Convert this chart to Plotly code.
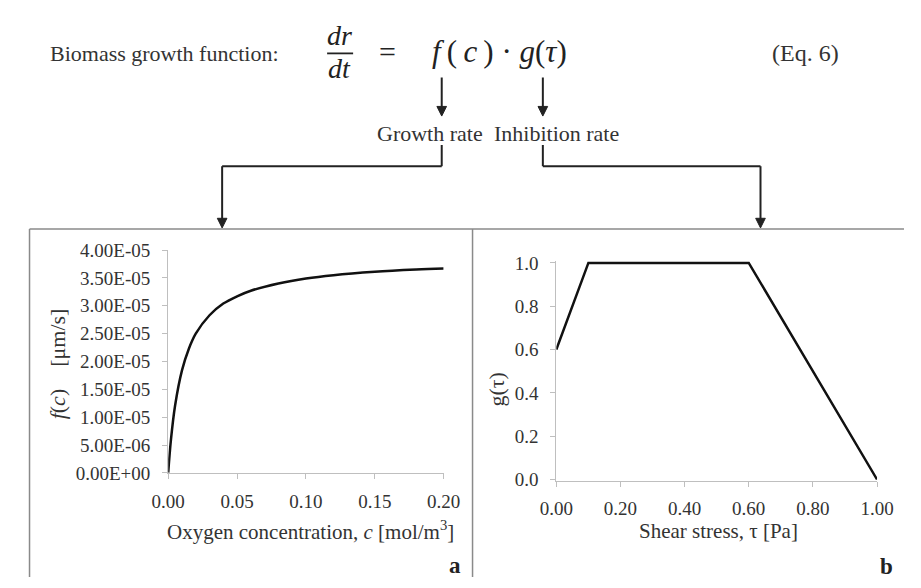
import plotly.graph_objects as go

# ---------------- data ----------------
conc = [0.0, 0.002, 0.005, 0.01, 0.015, 0.02, 0.03, 0.04, 0.05, 0.06, 0.08, 0.10, 0.12, 0.15, 0.18, 0.20]
growth = [0.0, 5.95e-6, 1.21e-5, 1.84e-5, 2.23e-5, 2.50e-5, 2.83e-5, 3.04e-5, 3.17e-5, 3.27e-5,
          3.40e-5, 3.49e-5, 3.55e-5, 3.61e-5, 3.65e-5, 3.67e-5]

shear = [0.0, 0.10, 0.60, 1.00]
inhibition = [0.6, 1.0, 1.0, 0.0]

a_yticks = [0, 5e-6, 1e-5, 1.5e-5, 2e-5, 2.5e-5, 3e-5, 3.5e-5, 4e-5]
a_yticklabels = ["0.00E+00", "5.00E-06", "1.00E-05", "1.50E-05", "2.00E-05",
                 "2.50E-05", "3.00E-05", "3.50E-05", "4.00E-05"]
a_xticks = [0.0, 0.05, 0.10, 0.15, 0.20]
b_xticks = [0.0, 0.2, 0.4, 0.6, 0.8, 1.0]
b_yticks = [0.0, 0.2, 0.4, 0.6, 0.8, 1.0]

# ---------------- layout helpers ----------------
W, H = 921, 588
def px(x):
    return x / W
def py(y):
    return 1 - y / H

SERIF = "Liberation Serif, Times New Roman, serif"
TXT = "#333333"
AX = "#bfbfbf"

fig = go.Figure()
fig.add_trace(go.Scatter(x=conc, y=growth, mode="lines", line=dict(color="#111111", width=2.5, shape="spline"),
                         xaxis="x", yaxis="y", showlegend=False, hoverinfo="x+y"))
fig.add_trace(go.Scatter(x=shear, y=inhibition, mode="lines", line=dict(color="#111111", width=2.5),
                         xaxis="x2", yaxis="y2", showlegend=False, hoverinfo="x+y"))

axis_common = dict(showgrid=False, zeroline=False, showline=True, linecolor=AX, linewidth=1.2,
                   ticks="outside", tickcolor=AX, ticklen=5, tickwidth=1.2,
                   tickfont=dict(family=SERIF, size=19, color=TXT))

fig.update_layout(
    width=W, height=H, margin=dict(l=0, r=0, t=0, b=0),
    paper_bgcolor="white", plot_bgcolor="white",
    xaxis=dict(domain=[px(157), px(443)], range=[0, 0.2], tickvals=a_xticks, tickformat=".2f",
               anchor="y", ticklabelstandoff=6, **axis_common),
    yaxis=dict(domain=[py(480), py(249)], range=[0, 4e-5], tickvals=a_yticks, ticktext=a_yticklabels,
               anchor="x", ticklabelstandoff=8, **axis_common),
    xaxis2=dict(domain=[px(560), px(893)], range=[0, 1.0], tickvals=b_xticks, tickformat=".2f",
                anchor="y2", ticklabelstandoff=6, **axis_common),
    yaxis2=dict(domain=[py(488), py(260)], range=[-0.005, 1.01], tickvals=b_yticks, tickformat=".1f",
                anchor="x2", ticklabelstandoff=8, **axis_common),
)

ann = []
def text(x, y, s, size=20, xanchor="center", angle=0, color=TXT, family=SERIF):
    ann.append(dict(x=px(x), y=py(y), xref="paper", yref="paper", text=s, showarrow=False,
                    xanchor=xanchor, yanchor="middle", textangle=angle,
                    font=dict(family=family, size=size, color=color)))

# header equation
text(32, 45, "Biomass growth function:", size=22, xanchor="left")
text(335, 26, "<i>dr</i>", size=28, color="#222")
text(335, 61, "<i>dt</i>", size=28, color="#222")
text(385, 43, "=", size=30, color="#222")
text(501, 43, "<i>f</i>\u2009(\u2009<i>c</i>\u2009) · <i>g</i>(<i>τ</i>)", size=31, color="#222")
text(819, 45, "(Eq. 6)", size=24)
text(429, 128, "Growth rate", size=22)
text(560, 128, "Inhibition rate", size=22)

# axis titles and panel letters
text(42, 367, "<i>f</i>(<i>c</i>)\u2002\u2002[μm/s]", size=22, angle=-90)
text(305, 540, "Oxygen concentration, <i>c</i> [mol/m<sup>3</sup>]", size=21)
text(498, 393, "g(τ)", size=22, angle=-90)
text(728, 540, "Shear stress, τ [Pa]", size=21)
text(455, 576, "<b>a</b>", size=23, color="#222")
text(903, 577, "<b>b</b>", size=23, color="#222")

shapes = []
def seg(x0, y0, x1, y1, color="#222222", width=2):
    shapes.append(dict(type="line", xref="paper", yref="paper", x0=px(x0), y0=py(y0), x1=px(x1), y1=py(y1),
                       line=dict(color=color, width=width)))
def head(x, y, w=5, h=10, color="#222222"):
    path = f"M {px(x - w)},{py(y - h)} L {px(x + w)},{py(y - h)} L {px(x)},{py(y)} Z"
    shapes.append(dict(type="path", xref="paper", yref="paper", path=path, fillcolor=color,
                       line=dict(color=color, width=1)))

# fraction bar
seg(322, 45, 349, 45, width=1.8)
# short down arrows
for xa in (441, 546):
    seg(xa, 70, xa, 102)
    head(xa, 110)
# brackets
seg(441, 140, 441, 162)
seg(441, 162, 213, 162)
seg(213, 162, 213, 218)
head(213, 226)
seg(546, 140, 546, 162)
seg(546, 162, 772, 162)
seg(772, 162, 772, 218)
head(772, 226)
# panel frames
seg(13, 227, 921, 227, color="#8a8a8a", width=1.5)
seg(13, 227, 13, 588, color="#8a8a8a", width=1.5)
seg(473, 227, 473, 588, color="#8a8a8a", width=1.5)

fig.update_layout(annotations=ann, shapes=shapes)

# remove the default page margin so the 921x588 figure fills the window exactly
page_fix = ("document.documentElement.style.margin='0';document.body.style.margin='0';"
            "document.documentElement.style.overflow='hidden';document.body.style.overflow='hidden';")
fig.write_html("out.html", post_script=page_fix, config={"displayModeBar": False})
